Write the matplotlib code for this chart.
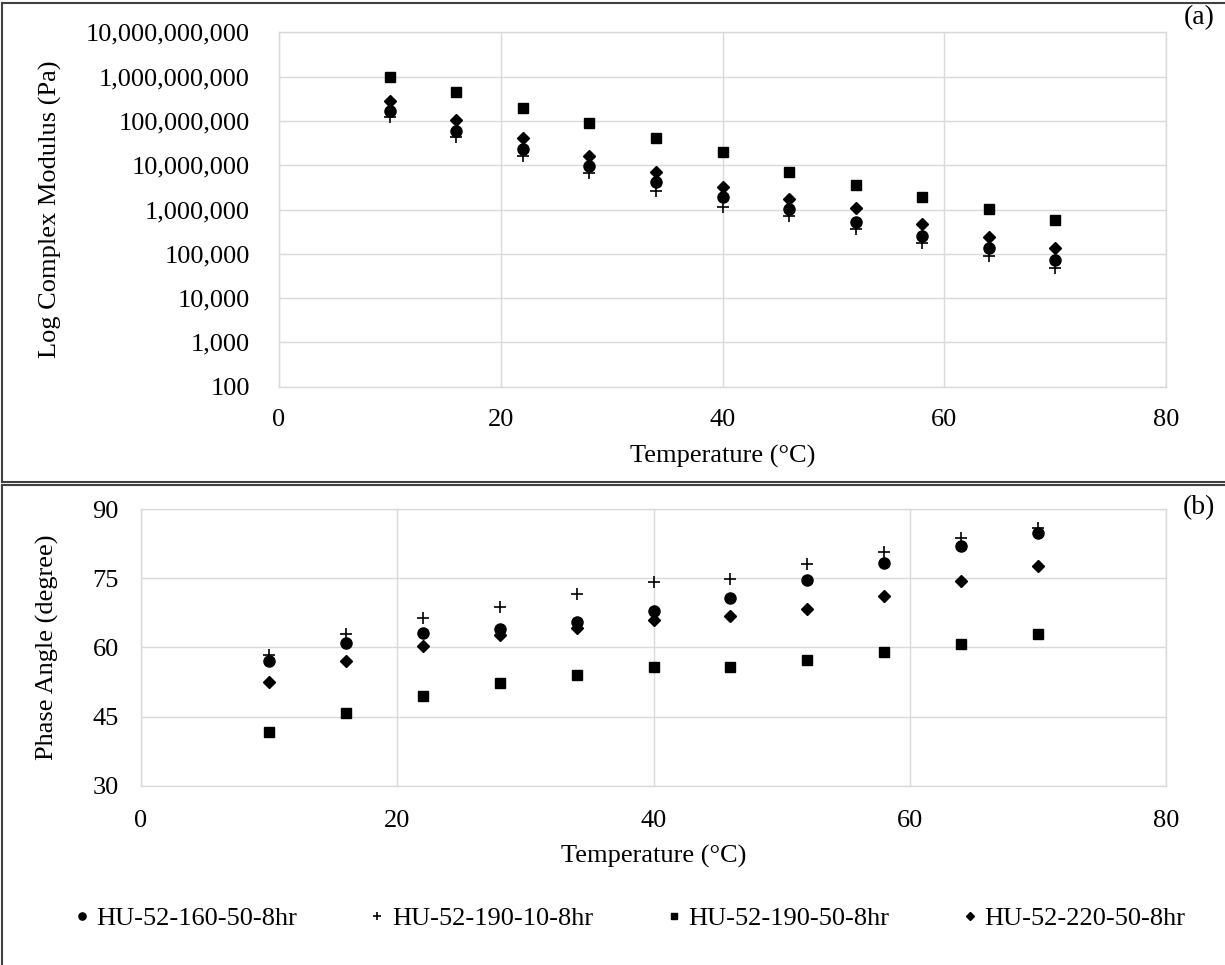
import numpy as np
import matplotlib
matplotlib.use("Agg")
import matplotlib.pyplot as plt
from matplotlib.ticker import FuncFormatter, FixedLocator
from matplotlib.lines import Line2D

plt.rcParams['font.family'] = ['Liberation Serif', 'DejaVu Serif']

temp = [10, 16, 22, 28, 34, 40, 46, 52, 58, 64, 70]
names = ["HU-52-160-50-8hr", "HU-52-190-10-8hr", "HU-52-190-50-8hr", "HU-52-220-50-8hr"]

# complex modulus (Pa)
g_160_50 = [1.65e8, 6.0e7, 2.3e7, 9.4e6, 4.2e6, 1.9e6, 1.03e6, 5.1e5, 2.5e5, 1.33e5, 7.2e4]
g_190_10 = [1.25e8, 4.4e7, 1.64e7, 6.6e6, 2.65e6, 1.12e6, 7.2e5, 3.6e5, 1.73e5, 8.8e4, 4.8e4]
g_190_50 = [9.6e8, 4.6e8, 1.95e8, 9.0e7, 4.1e7, 2.0e7, 7.0e6, 3.6e6, 1.9e6, 1.04e6, 5.9e5]
g_220_50 = [2.8e8, 1.07e8, 4.1e7, 1.64e7, 7.1e6, 3.3e6, 1.73e6, 1.1e6, 4.6e5, 2.4e5, 1.37e5]

# phase angle (degree)
p_160_50 = [57.1, 61.0, 63.1, 64.0, 65.5, 68.0, 70.7, 74.6, 78.3, 81.9, 84.9]
p_190_10 = [58.4, 62.9, 66.3, 68.7, 71.5, 74.1, 74.8, 78.0, 80.6, 83.7, 85.8]
p_190_50 = [41.7, 45.9, 49.5, 52.3, 54.1, 55.8, 55.8, 57.3, 59.0, 60.7, 62.9]
p_220_50 = [52.5, 57.0, 60.3, 62.6, 64.3, 65.9, 66.8, 68.3, 71.2, 74.4, 77.7]

W, H = 1225, 965
fig = plt.figure(figsize=(W/100, H/100), dpi=100)

gridc = '#d9d9d9'
fs = 19

def px(l, t, r, b):
    return [l/W, 1 - b/H, (r - l)/W, (b - t)/H]

def style(ax):
    ax.grid(True, color=gridc, linewidth=1)
    ax.set_axisbelow(True)
    for s in ax.spines.values():
        s.set_color(gridc)
        s.set_linewidth(1)

def draw(ax, series):
    ax.plot(temp, series[0], 'o', color='black', ms=8, label=names[0], zorder=3)
    ax.plot(temp, series[1], '+', color='black', ms=9, mew=1.2, label=names[1], zorder=3)
    ax.plot(temp, series[2], 's', color='black', ms=7.5, label=names[2], zorder=3)
    ax.plot(temp, series[3], 'D', color='black', ms=6.3, label=names[3], zorder=3)

# (a) complex modulus
ax1 = fig.add_axes(px(279, 32.3, 1166, 386.7))
draw(ax1, [g_160_50, g_190_10, g_190_50, g_220_50])
ax1.set_yscale('log')
ax1.set_ylim(1e2, 1e10)
ax1.set_xlim(0, 80)
ax1.set_xticks([0, 20, 40, 60, 80])
ax1.yaxis.set_major_locator(FixedLocator([10.0**k for k in range(2, 11)]))
ax1.yaxis.set_minor_locator(FixedLocator([]))
ax1.yaxis.set_major_formatter(FuncFormatter(lambda v, p: f"{int(round(v)):,}"))
style(ax1)
ax1.tick_params(axis='y', length=0, pad=21, labelsize=fs)
ax1.tick_params(axis='x', length=0, pad=16, labelsize=fs)
ax1.set_ylabel("Log Complex Modulus (Pa)", fontsize=fs, labelpad=17)
ax1.set_xlabel("Temperature (\u00b0C)", fontsize=fs, labelpad=10)

# (b) phase angle
ax2 = fig.add_axes(px(141, 509, 1166, 785.9))
draw(ax2, [p_160_50, p_190_10, p_190_50, p_220_50])
ax2.set_ylim(30, 90)
ax2.set_xlim(0, 80)
ax2.set_yticks([30, 45, 60, 75, 90])
ax2.set_xticks([0, 20, 40, 60, 80])
style(ax2)
ax2.tick_params(axis='y', length=0, pad=16, labelsize=fs)
ax2.tick_params(axis='x', length=0, pad=17, labelsize=fs)
ax2.set_ylabel("Phase Angle (degree)", fontsize=fs, labelpad=24)
ax2.set_xlabel("Temperature (\u00b0C)", fontsize=fs, labelpad=10)

fig.text(1199/W, 1 - 18/H, "(a)", fontsize=fs+1, ha='center', va='center')
fig.text(1199/W, 1 - 508/H, "(b)", fontsize=fs+1, ha='center', va='center')

handles, labels = ax2.get_legend_handles_labels()
fig.legend(handles, labels, loc='center', bbox_to_anchor=(630/W, 1 - 918/H), ncol=4,
           frameon=False, fontsize=fs, markerscale=0.65, handlelength=0.5,
           handletextpad=0.3, columnspacing=2.8)

# panel borders
bc = '#404040'
fig.add_artist(Line2D([2/W, 2/W], [1 - 3/H, 1 - 482/H], color=bc, lw=1.5))
fig.add_artist(Line2D([2/W, 1.0], [1 - 3/H, 1 - 3/H], color=bc, lw=1.5))
fig.add_artist(Line2D([2/W, 1.0], [1 - 482/H, 1 - 482/H], color=bc, lw=1.5))
fig.add_artist(Line2D([2/W, 1.0], [1 - 485/H, 1 - 485/H], color=bc, lw=1.5))
fig.add_artist(Line2D([2/W, 2/W], [1 - 485/H, 0], color=bc, lw=1.5))

fig.savefig("out.png", dpi=100)
